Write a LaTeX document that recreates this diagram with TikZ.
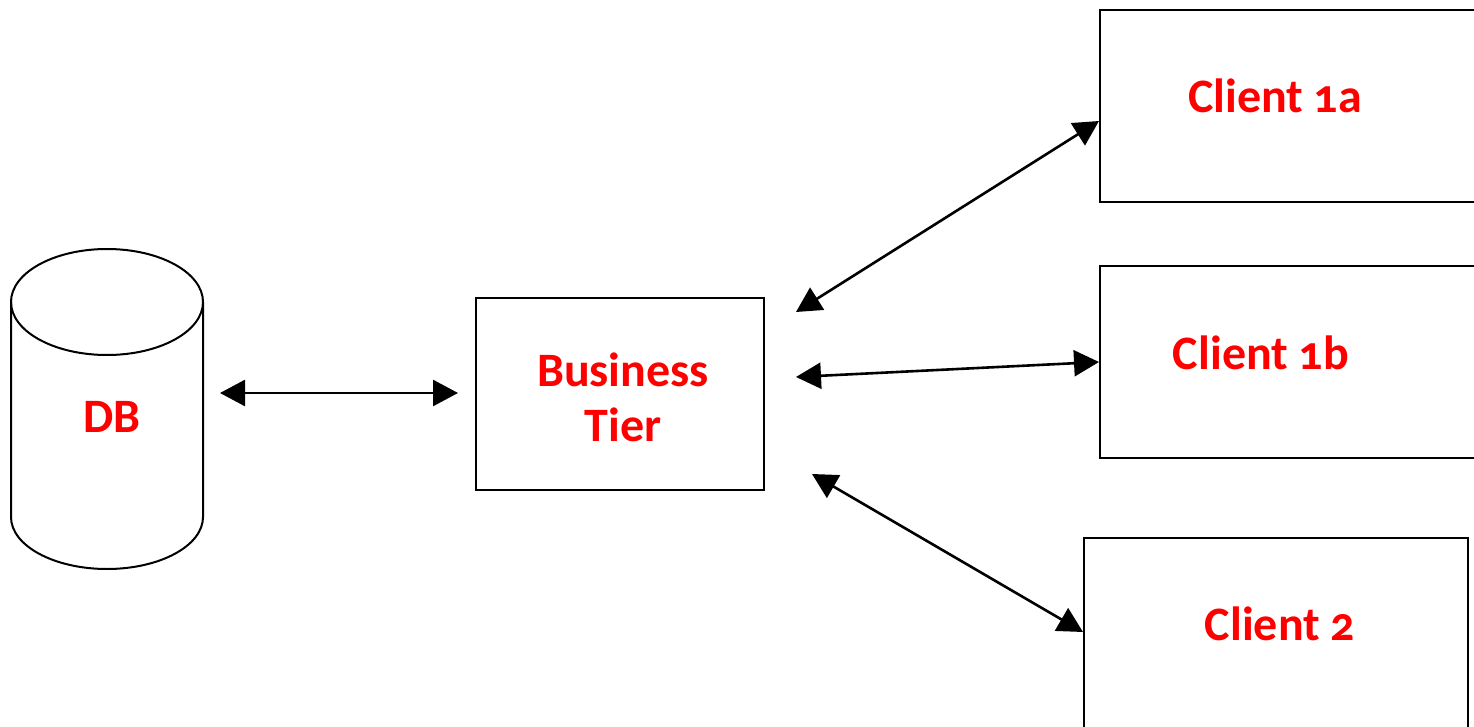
\documentclass[tikz,border=0pt]{standalone}
\usepackage{fontspec}
\setmainfont{Carlito}[Numbers=OldStyle]
\usetikzlibrary{arrows.meta,calc}
\definecolor{labelred}{RGB}{255,0,0}
\tikzset{
  tierbox/.style n args={2}{draw=black, line width=2pt, anchor=north west,
    minimum width=#1, minimum height=#2, inner sep=0pt},
  tiertext/.style={text=labelred, font=\fontsize{48}{55}\selectfont\bfseries,
    align=center, inner sep=0pt},
  link/.style={{Triangle[length=25pt,width=26pt]}-{Triangle[length=25pt,width=26pt]},
    line width=2.6pt},
  dbline/.style={line width=2pt}
}
\begin{document}
\begin{tikzpicture}[x=1pt, y=-1pt]
  \useasboundingbox (0,0) rectangle (1474,727);
  \clip (0,0) rectangle (1474,727);

  % database cylinder
  \draw[dbline] (11,302) -- (11,517)
    arc[start angle=180, end angle=0, x radius=96, y radius=52] -- (203,302);
  \draw[dbline] (107,302) ellipse [x radius=96, y radius=53];
  \node[tiertext, anchor=base] (db) at (112,432) {DB};

  % business tier
  \node[tierbox={288pt}{192pt}] (bt) at (475,297) {};
  \node[tiertext] (btlabel) at (623,397) {Business\\Tier};

  % clients
  \node[tierbox={390pt}{192pt}] (c1a) at (1099,9) {};
  \node[tiertext, anchor=base] (c1alabel) at (1275,113) {Client 1a};
  \node[tierbox={390pt}{192pt}] (c1b) at (1099,265) {};
  \node[tiertext, anchor=base] (c1blabel) at (1261,369) {Client 1b};
  \node[tierbox={384pt}{220pt}] (c2) at (1083,537) {};
  \node[tiertext, anchor=base] (c2label) at (1280,640) {Client 2};

  % connector ends beside the business tier
  \coordinate (dbside) at (220,393);
  \coordinate (btwest) at (458,393);
  \coordinate (btnorth) at (796,312);
  \coordinate (bteast) at (796,377);
  \coordinate (btsouth) at (812,474);

  % connectors
  \draw[link] (dbside) -- (btwest);
  \draw[link] (btnorth) -- ($(c1a.north west)+(0,112)$);
  \draw[link] (bteast) -- (c1b.west);
  \draw[link] (btsouth) -- ($(c2.north west)+(0,95)$);
\end{tikzpicture}
\end{document}
